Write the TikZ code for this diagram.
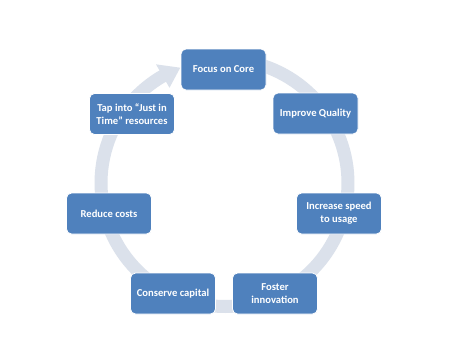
\documentclass[tikz,border=0pt]{standalone}
\usepackage{fontspec}
\setmainfont{Carlito}
\definecolor{boxblue}{RGB}{79,129,189}
\definecolor{ringgray}{RGB}{219,225,235}
\begin{document}
\begin{tikzpicture}[x=1pt,y=-1pt,
  box/.style={draw=white, line width=0.8pt, fill=boxblue, rounded corners=5pt,
    minimum width=85pt, minimum height=41pt, text=white, align=center,
    font=\fontsize{10.6}{13}\selectfont\bfseries, inner sep=2pt}]
\useasboundingbox[fill=white] (0,0) rectangle (474,349);
% circular arrow behind the boxes
\draw[ringgray, line width=13pt] plot[domain=-80:240.5, samples=120]
  ({224.5+123.5*cos(\x)},{183+123.5*sin(\x)});
\fill[ringgray] ({224.5+137*cos(240)},{183+137*sin(240)})
  -- ({224.5+123.5*cos(249)},{183+123.5*sin(249)})
  -- ({224.5+110*cos(240)},{183+110*sin(240)}) -- cycle;
% boxes
\node[box] (core) at (223.5,69.5) {Focus on Core};
\node[box] (quality) at (315.5,113.5) {Improve Quality};
\node[box] (speed) at (339,213.5) {Increase speed\\to usage};
\node[box] (foster) at (275,293.5) {Foster\\innovation};
\node[box] (capital) at (173,293.5) {Conserve capital};
\node[box] (costs) at (109,213.5) {Reduce costs};
\node[box] (jit) at (132,114) {Tap into “Just in\\Time” resources};
\end{tikzpicture}
\end{document}
